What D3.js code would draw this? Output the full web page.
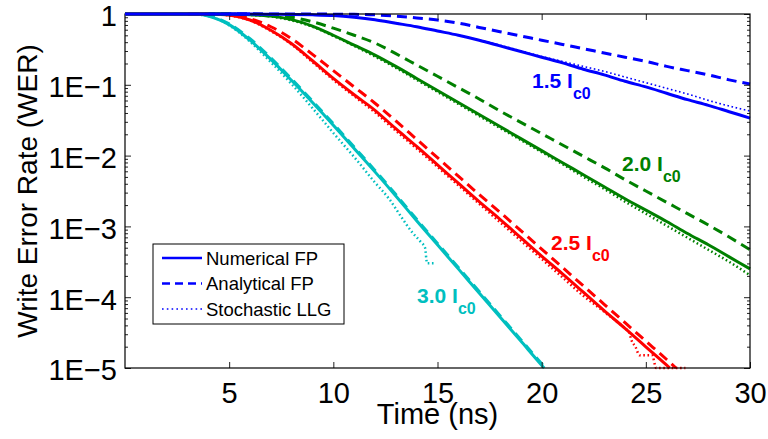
<!DOCTYPE html>
<html>
<head>
<meta charset="utf-8">
<script src="https://cdn.jsdelivr.net/npm/d3@7"></script>
<style>
  html, body { margin: 0; padding: 0; background: #fff; }
  svg { display: block; font-family: "Liberation Sans", Arial, sans-serif; }
</style>
</head>
<body>
<svg id="chart" width="768" height="439"></svg>
<script>
// ---------- DATA (time in ns, value = log10 of WER) ----------
const xTicks = [5, 10, 15, 20, 25, 30];
const yTicks = [1e-5, 1e-4, 1e-3, 1e-2, 1e-1, 1];
const legendLabels = ["Numerical FP", "Analytical FP", "Stochastic LLG"];
const currentLabels = ["1.5", "2.0", "2.5", "3.0"];
const labelAnchors = [[19.54, -1.045], [23.86, -2.218], [20.45, -3.333], [14.02, -4.082]];

const blueNum = [[0,0],[6,0],[7,-0.003],[8,-0.007],[9,-0.012],[10,-0.022],[11,-0.045],[12,-0.08],[13,-0.13],[14,-0.18],[15,-0.24],[16,-0.3],[17,-0.37],[18,-0.45],[19,-0.53],[20,-0.61],[21,-0.69],[22,-0.78],[23,-0.86],[24,-0.95],[25,-1.03],[26,-1.12],[27,-1.21],[28,-1.29],[29,-1.38],[30,-1.47]];
const blueAna = [[0,0],[9,0],[10,-0.002],[11,-0.005],[12,-0.012],[13,-0.03],[14,-0.055],[15,-0.085],[16,-0.13],[17,-0.19],[18,-0.25],[19,-0.31],[20,-0.37],[21,-0.43],[22,-0.49],[23,-0.55],[24,-0.61],[25,-0.67],[26,-0.74],[27,-0.8],[28,-0.86],[29,-0.93],[30,-0.99]];
const blueLLG = [[0,0],[6,0],[8,-0.007],[10,-0.022],[12,-0.08],[14,-0.18],[16,-0.3],[18,-0.44],[20,-0.6],[21,-0.67],[22,-0.74],[23,-0.81],[24,-0.89],[25,-0.97],[26,-1.05],[27,-1.13],[28,-1.22],[29,-1.3],[30,-1.37]];

const greenNum = [[0,0],[5,0],[6,-0.01],[7,-0.03],[8,-0.08],[9,-0.17],[10,-0.3],[11,-0.44],[12,-0.58],[13,-0.74],[14,-0.91],[15,-1.08],[16,-1.25],[17,-1.42],[18,-1.59],[19,-1.76],[20,-1.93],[21,-2.1],[22,-2.27],[23,-2.44],[24,-2.61],[25,-2.77],[26,-2.93],[27,-3.1],[28,-3.26],[29,-3.43],[30,-3.6]];
const greenAna = [[0,0],[6,0],[7,-0.01],[8,-0.045],[9,-0.11],[10,-0.2],[11,-0.3],[12,-0.41],[13,-0.56],[14,-0.72],[15,-0.88],[16,-1.04],[17,-1.2],[18,-1.37],[19,-1.53],[20,-1.69],[21,-1.85],[22,-2.01],[23,-2.17],[24,-2.34],[25,-2.5],[26,-2.66],[27,-2.82],[28,-2.98],[29,-3.15],[30,-3.33]];
const greenLLG = [[0,0],[5,0],[6,-0.012],[7,-0.035],[8,-0.09],[9,-0.18],[10,-0.31],[11,-0.45],[12,-0.6],[13,-0.76],[14,-0.93],[15,-1.1],[16,-1.27],[17,-1.44],[18,-1.61],[19,-1.78],[20,-1.95],[21,-2.12],[22,-2.3],[23,-2.47],[24,-2.65],[25,-2.82],[26,-2.99],[27,-3.16],[28,-3.33],[29,-3.5],[30,-3.69]];

const redNum = [[0,0],[4,0],[4.5,-0.005],[5,-0.015],[6,-0.085],[7,-0.23],[8,-0.42],[9,-0.66],[10,-0.91],[11,-1.14],[12,-1.36],[13,-1.62],[14,-1.87],[15,-2.13],[16,-2.39],[17,-2.65],[18,-2.9],[19,-3.16],[20,-3.42],[21,-3.67],[22,-3.93],[23,-4.19],[24,-4.44],[25,-4.7],[26,-4.96],[26.15,-5]];
const redAna = [[0,0],[4,0],[5,-0.01],[6,-0.065],[7,-0.18],[8,-0.35],[9,-0.57],[10,-0.8],[11,-1.03],[12,-1.26],[13,-1.51],[14,-1.77],[15,-2.03],[16,-2.29],[17,-2.55],[18,-2.8],[19,-3.06],[20,-3.32],[21,-3.58],[22,-3.84],[23,-4.1],[24,-4.36],[25,-4.62],[26,-4.88],[26.45,-5]];
const redLLG = [[0,0],[4,0],[5,-0.02],[6,-0.09],[7,-0.24],[8,-0.43],[9,-0.68],[10,-0.93],[11,-1.16],[12,-1.39],[13,-1.65],[14,-1.9],[15,-2.16],[16,-2.42],[17,-2.68],[18,-2.94],[19,-3.2],[20,-3.46],[21,-3.72],[22,-3.98],[22.8,-4.16],[23.5,-4.32],[24,-4.44],[24.2,-4.5],[24.3,-4.6],[24.5,-4.7],[24.7,-4.82],[25.3,-4.82],[25.5,-5],[26.9,-5]];

const cyanNum = [[0,0],[3,0],[3.5,-0.005],[4,-0.03],[4.5,-0.08],[5,-0.15],[6,-0.37],[7,-0.64],[8,-0.94],[9,-1.25],[10,-1.57],[11,-1.9],[12,-2.23],[13,-2.57],[14,-2.92],[15,-3.26],[16,-3.6],[17,-3.94],[18,-4.28],[19,-4.62],[20,-4.96],[20.12,-5]];
const cyanAna = [[0,0],[3,0],[3.5,-0.004],[4,-0.025],[4.5,-0.07],[5,-0.14],[6,-0.35],[7,-0.62],[8,-0.92],[9,-1.23],[10,-1.55],[11,-1.88],[12,-2.21],[13,-2.55],[14,-2.9],[15,-3.24],[16,-3.58],[17,-3.92],[18,-4.26],[19,-4.6],[20,-4.94],[20.18,-5]];
const cyanLLG = [[0,0],[3,0],[4,-0.03],[5,-0.16],[6,-0.39],[7,-0.68],[8,-0.99],[9,-1.33],[10,-1.68],[11,-2.02],[12,-2.38],[12.7,-2.62],[13.2,-2.84],[13.8,-3.09],[14.2,-3.22],[14.4,-3.3],[14.5,-3.52],[14.9,-3.52]];

const colors = { blue: "#0000ff", green: "#008000", red: "#ff0000", cyan: "#00bfbf" };

// ---------- LAYOUT ----------
const svg = d3.select("#chart");
const L = 125, R = 750, T = 14, B = 368;
const x = d3.scaleLinear().domain([0, 30]).range([L, R]);
const y = d3.scaleLog().domain([1e-5, 1]).range([B, T]);

svg.append("defs").append("clipPath").attr("id", "clip")
  .append("rect").attr("x", L - 2).attr("y", T - 3).attr("width", R - L + 4).attr("height", B - T + 6);

const line = d3.line()
  .x(d => x(d[0]))
  .y(d => y(Math.pow(10, d[1])))
  .curve(d3.curveMonotoneX);

const styles = {
  num: { w: 3, dash: null },
  ana: { w: 3, dash: "10,6" },
  llg: { w: 2.5, dash: "1.6,2.6" }
};

const groups = [
  ["cyan", cyanNum, cyanAna, cyanLLG],
  ["red", redNum, redAna, redLLG],
  ["green", greenNum, greenAna, greenLLG],
  ["blue", blueNum, blueAna, blueLLG]
];

const plotG = svg.append("g").attr("clip-path", "url(#clip)");
groups.forEach(([c, num, ana, llg]) => {
  [["llg", llg], ["ana", ana], ["num", num]].forEach(([k, data]) => {
    const s = styles[k];
    plotG.append("path")
      .datum(data)
      .attr("d", line)
      .attr("fill", "none")
      .attr("stroke", colors[c])
      .attr("stroke-width", c === "blue" && k === "llg" ? 1.6 : s.w)
      .attr("stroke-dasharray", s.dash);
  });
});

// ---------- AXES ----------
const minorY = [];
for (let e = -5; e < 0; e++) for (let k = 2; k <= 9; k++) minorY.push(k * Math.pow(10, e));

const fmtY = v => {
  const e = Math.round(Math.log10(v));
  return e === 0 ? "1" : "1E\u2212" + (-e);
};

const axisStyle = g => {
  g.select(".domain").remove();
  g.selectAll(".tick line").attr("stroke", "#222").attr("stroke-width", 1);
  g.selectAll(".tick text").attr("fill", "#000").attr("font-size", 29)
    .attr("font-family", "'Liberation Sans', Arial, sans-serif");
};

svg.append("g").attr("transform", `translate(${L},0)`)
  .call(d3.axisLeft(y).tickValues(yTicks).tickFormat(fmtY).tickSize(-6).tickPadding(8))
  .call(axisStyle)
  .selectAll(".tick text").attr("dy", "0.41em");
svg.append("g").attr("transform", `translate(${L},0)`)
  .call(d3.axisLeft(y).tickValues(minorY).tickFormat("").tickSize(-3)).call(axisStyle);
svg.append("g").attr("transform", `translate(${R},0)`)
  .call(d3.axisRight(y).tickValues(yTicks).tickFormat("").tickSize(-6)).call(axisStyle);
svg.append("g").attr("transform", `translate(${R},0)`)
  .call(d3.axisRight(y).tickValues(minorY).tickFormat("").tickSize(-3)).call(axisStyle);

svg.append("g").attr("transform", `translate(0,${B})`)
  .call(d3.axisBottom(x).tickValues(xTicks).tickFormat(d3.format("d")).tickSize(-6).tickPadding(14))
  .call(axisStyle);
svg.append("g").attr("transform", `translate(0,${T})`)
  .call(d3.axisTop(x).tickValues(xTicks.slice(0, -1)).tickFormat("").tickSize(-6))
  .call(axisStyle);

svg.append("rect").attr("x", L).attr("y", T).attr("width", R - L).attr("height", B - T)
  .attr("fill", "none").attr("stroke", "#000").attr("stroke-width", 1.2);

// re-draw the flat "1" level lines above the frame
const flatG = svg.append("g").attr("clip-path", "url(#clip)");
groups.forEach(([c, num]) => {
  flatG.append("path").datum(num.filter(d => d[1] === 0))
    .attr("d", line).attr("fill", "none").attr("stroke", colors[c]).attr("stroke-width", 3);
});

// axis titles
svg.append("text").attr("x", (L + R) / 2).attr("y", 424).attr("text-anchor", "middle")
  .attr("font-size", 29).text("Time (ns)");
svg.append("text").attr("transform", `translate(37,${(T + B) / 2}) rotate(-90)`)
  .attr("text-anchor", "middle").attr("font-size", 28).text("Write Error Rate (WER)");

// ---------- CURVE LABELS ----------
const labelColors = [colors.blue, colors.green, colors.red, colors.cyan];
currentLabels.forEach((lab, i) => {
  const [t, lv] = labelAnchors[i];
  const tx = svg.append("text")
    .attr("x", x(t)).attr("y", y(Math.pow(10, lv)))
    .attr("font-size", 21).attr("font-weight", "bold").attr("fill", labelColors[i]);
  tx.append("tspan").text(lab + " I");
  tx.append("tspan").attr("font-size", 16).attr("dy", 11).text("c0");
});

// ---------- LEGEND ----------
const lg = svg.append("g");
lg.append("rect").attr("x", 153).attr("y", 244).attr("width", 191).attr("height", 80)
  .attr("fill", "#fff").attr("stroke", "#000").attr("stroke-width", 1);
legendLabels.forEach((lab, i) => {
  const cy = 258 + i * 25.5;
  lg.append("line").attr("x1", 162).attr("x2", 202).attr("y1", cy).attr("y2", cy)
    .attr("stroke", colors.blue).attr("stroke-width", i === 2 ? 1.6 : 2.5)
    .attr("stroke-dasharray", i === 1 ? "8,5" : (i === 2 ? "1.6,3.2" : null));
  lg.append("text").attr("x", 206).attr("y", cy + 6.5).attr("font-size", 18.5).text(lab);
});
</script>
</body>
</html>
